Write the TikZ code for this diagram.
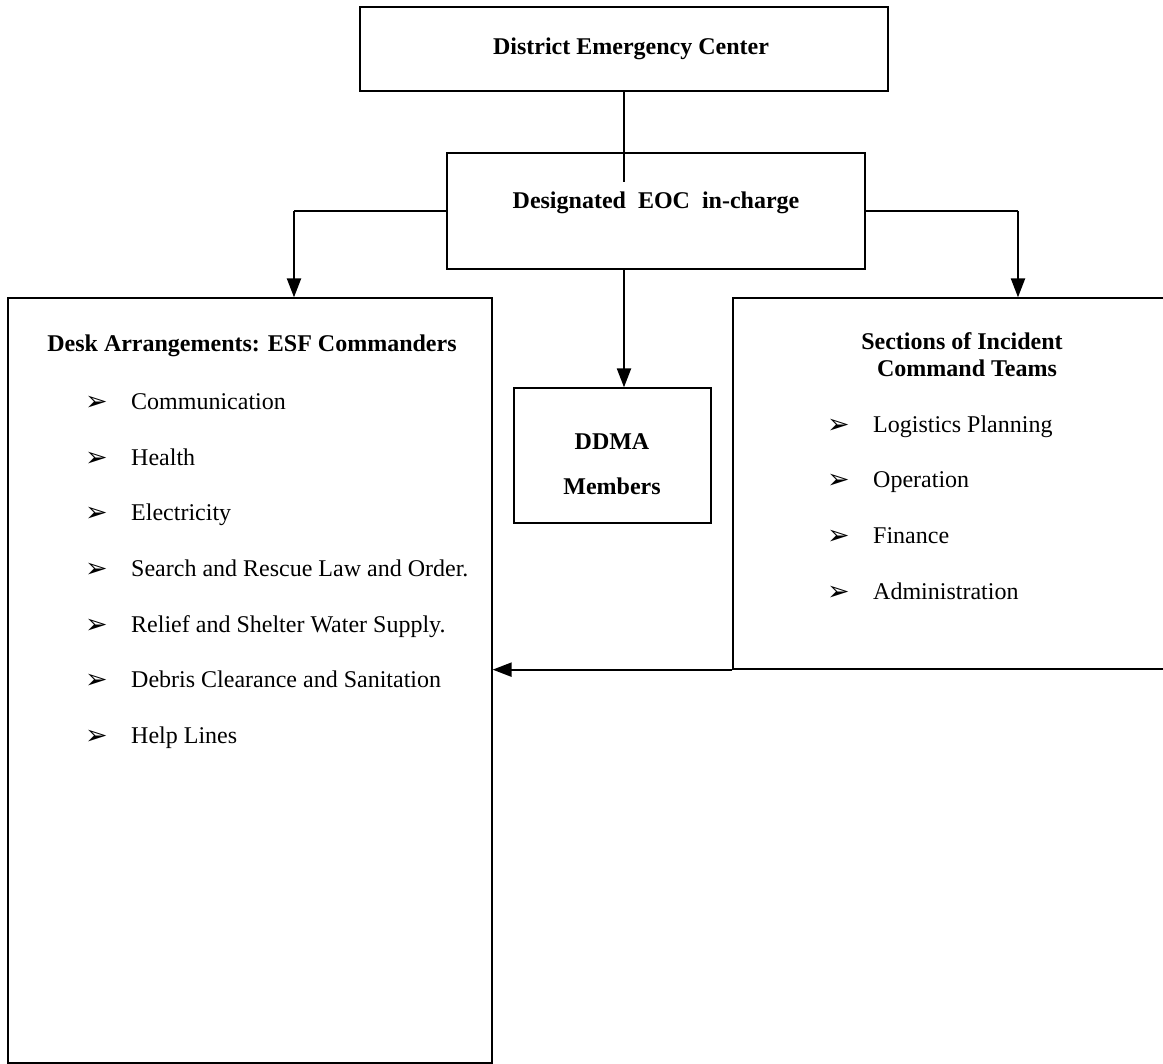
\documentclass[tikz,border=0pt]{standalone}
\usepackage{fontspec}
\setmainfont{Liberation Serif}
\newfontfamily\dejavu{DejaVu Sans}
\usetikzlibrary{arrows.meta}
\tikzset{
  box/.style={draw=black, line width=1.3pt, inner sep=0pt, fill=none},
  conn/.style={draw=black, line width=1.3pt},
  arr/.style={draw=black, line width=2.2pt, -{Triangle[length=19pt,width=14pt]}},
  ttl/.style={font=\fontsize{24}{28}\selectfont\bfseries, inner sep=0pt},
  itm/.style={font=\fontsize{24}{28}\selectfont, inner sep=0pt, anchor=base west},
  bul/.style={font=\dejavu\fontsize{27}{30}\selectfont, inner sep=0pt, anchor=base west}
}
\begin{document}
\begin{tikzpicture}[x=1pt,y=-1pt]
\useasboundingbox (0,0) rectangle (1163,1064);
\clip (0,0) rectangle (1163,1064);
\fill[white] (0,0) rectangle (1163,1064);
% boxes
\node[box, minimum width=528pt, minimum height=84pt] (dec) at (624,49) {};
\node[box, minimum width=418pt, minimum height=116pt] (eoc) at (656,211) {};
\node[box, minimum width=484pt, minimum height=765pt] (desk) at (250,680.5) {};
\node[box, minimum width=197pt, minimum height=135pt] (ddma) at (612.5,455.5) {};
\node[box, minimum width=467pt, minimum height=371pt] (sect) at (966.5,483.5) {};
% titles
\node[ttl, anchor=base] (t1) at (631,55) {District Emergency Center};
\node[ttl, anchor=base] (t2) at (656,209) {Designated\hspace{6pt} EOC\hspace{6pt} in-charge};
\node[ttl, anchor=base] (t3) at (252,352) {Desk Arrangements: ESF Commanders};
\node[ttl, anchor=base] (t4) at (612,450) {DDMA};
\node[ttl, anchor=base] (t5) at (612,495) {Members};
\node[ttl, anchor=base] (t6) at (962,350) {Sections of Incident};
\node[ttl, anchor=base] (t7) at (967,377) {Command Teams};
% left items
\foreach \y/\txt [count=\i] in {410/Communication, 465.5/Health, 521/Electricity, 576.5/Search and Rescue Law and Order., 632/Relief and Shelter Water Supply., 687.5/Debris Clearance and Sanitation, 743/Help Lines}{
  \node[bul] (lb\i) at (85,\y+1) {➢};
  \node[itm] (li\i) at (131,\y) {\txt};
}
% right items
\foreach \y/\txt [count=\i] in {433/Logistics Planning, 488/Operation, 543.5/Finance, 599/Administration}{
  \node[bul] (rb\i) at (827,\y+1) {➢};
  \node[itm] (ri\i) at (873,\y) {\txt};
}
% connectors
\coordinate (topend) at (624,182);
\coordinate (lc) at (294,211);
\coordinate (rc) at (1018,211);
\draw[conn] (dec.south) -- (topend);
\draw[conn] (eoc.west) -- (lc);
\draw[arr] (lc) -- (lc |- desk.north);
\draw[conn] (eoc.east) -- (rc);
\draw[arr] (rc) -- (rc |- sect.north);
\draw[arr] (eoc.south -| dec.south) -- (ddma.north -| dec.south);
\draw[arr] (sect.south west) -- (sect.south west -| desk.east);
\end{tikzpicture}
\end{document}
